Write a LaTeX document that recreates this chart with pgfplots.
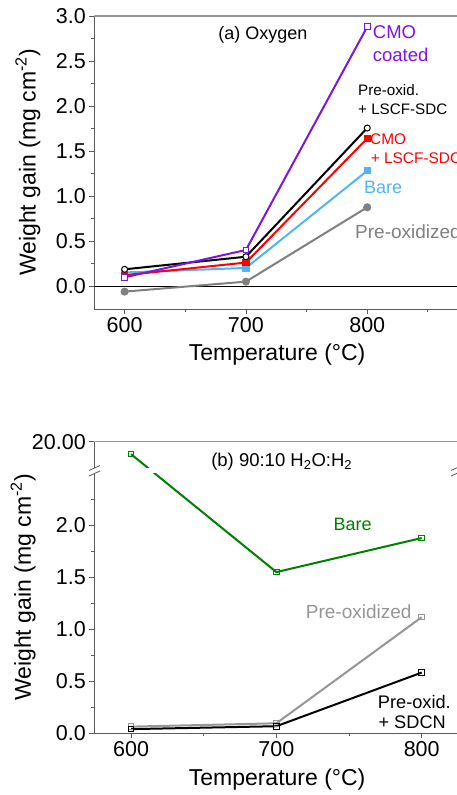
\documentclass[border=0pt]{standalone}
\usepackage{fontspec}
\setmainfont{Liberation Sans}
\usepackage{pgfplots}
\pgfplotsset{compat=1.18}
\definecolor{cpurple}{RGB}{125,20,225}
\definecolor{cblue}{RGB}{80,180,250}
\definecolor{cgray}{RGB}{128,128,128}
\definecolor{cgreen}{RGB}{0,128,0}
\definecolor{clgray}{RGB}{150,150,150}
\definecolor{caxis}{RGB}{90,90,90}
\pgfplotsset{
  myaxis/.style={
    scale only axis, anchor=south west,
    axis x line*=bottom, axis y line*=left,
    tick align=outside, major tick length=5pt, minor tick length=3pt,
    axis line style={caxis, line width=0.9pt},
    tick style={caxis, line width=0.8pt},
    tick label style={font=\fontsize{21.5}{24}\selectfont},
    label style={font=\fontsize{23}{26}\selectfont},
    /pgf/number format/assume math mode=true,
    xtick={600,700,800}, minor xtick={650,750,850},
    yticklabel style={/pgf/number format/.cd, fixed, fixed zerofill, precision=1},
    every axis plot/.append style={line width=2pt},
  }
}
\begin{document}
\begin{tikzpicture}[x=1pt,y=1pt]
\useasboundingbox (0pt,0pt) rectangle (457pt,795pt);
\clip (0pt,0pt) rectangle (457pt,795pt);
% ---------------- (a) Oxygen ----------------
\begin{axis}[myaxis, at={(94.3pt,486pt)}, width=362.7pt, height=293pt,
  xmin=575, xmax=874, ymin=-0.256, ymax=3.0,
  ytick={0,0.5,1,1.5,2,2.5,3}, minor ytick={0.25,0.75,1.25,1.75,2.25,2.75},
  xlabel={Temperature (°C)}, ylabel={Weight gain (mg cm\textsuperscript{-2})},
  xlabel style={at={(axis description cs:0.504,-0.157)}, anchor=center},
  ylabel style={at={(axis description cs:-0.183,0.5)}, anchor=center},
]
\draw[black, line width=0.9pt] (axis cs:575,0) -- (axis cs:874,0);
\draw[clgray, line width=1.6pt] (rel axis cs:0,1) -- (rel axis cs:1,1);
\addplot[cgray, mark=*, mark size=3pt] coordinates {(600,-0.063) (700,0.048) (800,0.874)};
\addplot[cblue, mark=square*, mark size=2.6pt] coordinates {(600,0.15) (700,0.20) (800,1.28)};
\addplot[red, mark=square*, mark size=2.6pt] coordinates {(600,0.12) (700,0.26) (800,1.64)};
\addplot[black, mark=*, mark size=3pt, mark options={fill=white, line width=1pt}] coordinates {(600,0.185) (700,0.325) (800,1.755)};
\addplot[cpurple, mark=square*, mark size=2.8pt, mark options={fill=white, line width=1pt}] coordinates {(600,0.096) (700,0.40) (800,2.88)};
\end{axis}
\node[font=\fontsize{18}{21}\selectfont] at (263pt,760pt) {(a) Oxygen};
\node[anchor=west, inner sep=0, text=cpurple, font=\fontsize{18.5}{22}\selectfont] at (372.7pt,763pt) {CMO};
\node[anchor=west, inner sep=0, text=cpurple, font=\fontsize{18.5}{22}\selectfont] at (372.7pt,740pt) {coated};
\node[anchor=west, inner sep=0, font=\fontsize{15.2}{18}\selectfont] at (358pt,705pt) {Pre-oxid.};
\node[anchor=west, inner sep=0, font=\fontsize{15.2}{18}\selectfont] at (358pt,686pt) {+ LSCF-SDC};
\node[anchor=west, inner sep=0, text=red, font=\fontsize{15.4}{18}\selectfont] at (370pt,656pt) {CMO};
\node[anchor=west, inner sep=0, text=red, font=\fontsize{15.4}{18}\selectfont] at (370.7pt,637pt) {+ LSCF-SDC};
\node[anchor=west, inner sep=0, text=cblue, font=\fontsize{18}{21}\selectfont] at (364pt,608pt) {Bare};
\node[anchor=west, inner sep=0, text=cgray, font=\fontsize{19}{22}\selectfont] at (355pt,563pt) {Pre-oxidized};
% ---------------- (b) 90:10 H2O:H2 ----------------
% broken y axis: values above 2.53 belong to the upper segment (tick 20.00 at 2.80)
\begin{axis}[myaxis, at={(94.3pt,61.7pt)}, width=362.7pt, height=291.6pt,
  xmin=574.7, xmax=824.3, ymin=0, ymax=2.80,
  ytick={0,0.5,1,1.5,2,2.8}, yticklabels={0.0,0.5,1.0,1.5,2.0,20.00},
  minor ytick={0.25,0.75,1.25,1.75,2.25},
  xlabel={Temperature (°C)}, ylabel={Weight gain (mg cm\textsuperscript{-2})},
  xlabel style={at={(axis description cs:0.504,-0.160)}, anchor=center},
  ylabel style={at={(axis description cs:-0.196,0.5)}, anchor=center},
]
\draw[clgray, line width=1.6pt] (rel axis cs:0,1) -- (rel axis cs:1,1);
\addplot[cgreen, mark=square, mark size=2.8pt, mark options={fill=white, line width=1pt}] coordinates {(600,2.68) (700,1.548) (800,1.875)};
\addplot[clgray, mark=square, mark size=2.8pt, mark options={fill=white, line width=1pt}] coordinates {(600,0.064) (700,0.096) (800,1.115)};
\addplot[black, mark=square, mark size=2.8pt, mark options={fill=white, line width=1pt}] coordinates {(600,0.04) (700,0.068) (800,0.583)};
\end{axis}
% axis break
\fill[white] (88pt,322pt) rectangle (457pt,327pt);
\draw[caxis, line width=0.8pt] (89pt,319pt) -- (100pt,324pt);
\draw[caxis, line width=0.8pt] (89pt,324.5pt) -- (100pt,329.5pt);
\draw[caxis, line width=0.8pt] (451pt,319pt) -- (462pt,324pt);
\draw[caxis, line width=0.8pt] (451pt,324.5pt) -- (462pt,329.5pt);
\node[font=\fontsize{18.5}{21}\selectfont] at (281.7pt,333.3pt) {(b) 90:10 H\textsubscript{2}O:H\textsubscript{2}};
\node[anchor=west, inner sep=0, text=cgreen, font=\fontsize{18}{21}\selectfont] at (333.3pt,271pt) {Bare};
\node[anchor=west, inner sep=0, text=clgray, font=\fontsize{19}{22}\selectfont] at (305.7pt,183pt) {Pre-oxidized};
\node[anchor=east, inner sep=0, font=\fontsize{18.2}{21}\selectfont] at (451pt,93.3pt) {Pre-oxid.};
\node[anchor=east, inner sep=0, font=\fontsize{18.2}{21}\selectfont] at (446pt,73pt) {+ SDCN};
\end{tikzpicture}
\end{document}
